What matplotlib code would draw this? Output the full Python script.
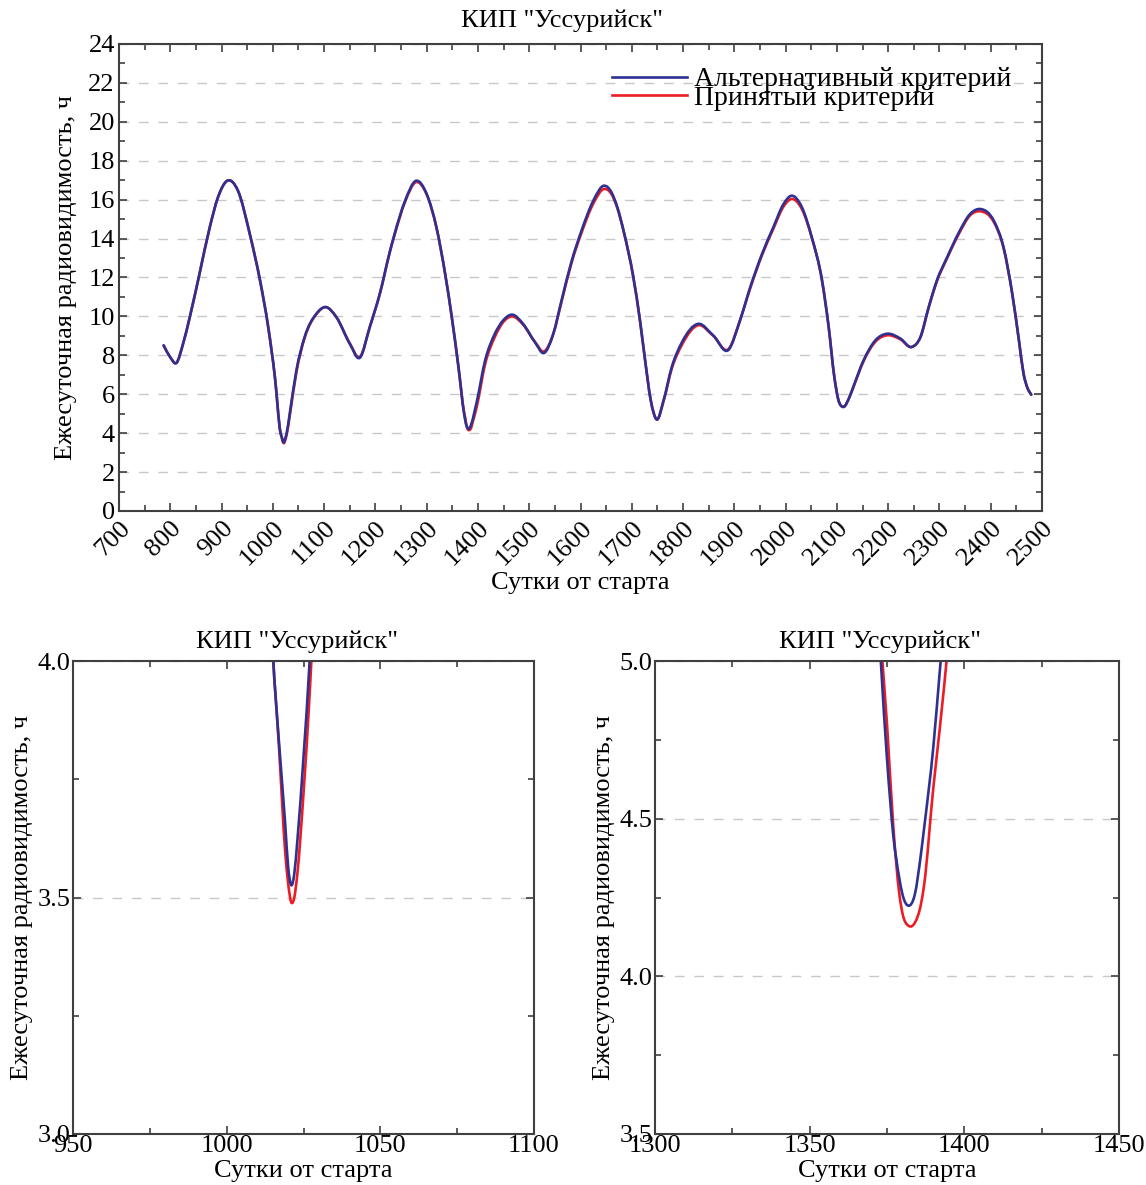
import numpy as np
import matplotlib
matplotlib.use("Agg")
import matplotlib.pyplot as plt
from matplotlib.ticker import MultipleLocator, FormatStrFormatter
from matplotlib.path import Path
from matplotlib.patches import PathPatch
from matplotlib.lines import Line2D

plt.rcParams['font.family'] = ['Liberation Serif', 'DejaVu Serif']

# ---------------- data ----------------
days = [787, 800, 812, 825, 838, 857, 877, 893, 911, 932, 955, 975, 991, 1004,
        1015, 1017, 1019, 1020, 1021, 1022, 1023, 1025, 1027, 1033, 1046, 1062,
        1085, 1103, 1124, 1150, 1170, 1189, 1209, 1228, 1237, 1258, 1279, 1300,
        1319, 1336, 1349, 1362, 1373, 1375, 1377, 1379, 1380, 1382, 1384, 1386,
        1387, 1390, 1392, 1398, 1414, 1433, 1449, 1467, 1488, 1511, 1529, 1547,
        1563, 1583, 1602, 1625, 1646, 1660, 1672, 1684, 1703, 1716, 1726, 1737,
        1749, 1762, 1778, 1798, 1830, 1859, 1889, 1911, 1931, 1954, 1976, 1996,
        2011, 2032, 2051, 2071, 2084, 2095, 2103, 2112, 2126, 2132, 2152, 2175,
        2198, 2224, 2246, 2263, 2279, 2295, 2315, 2338, 2360, 2380, 2406, 2425,
        2442, 2455, 2464, 2472, 2479]

alt_crit = [8.51, 7.90, 7.61, 8.60, 9.96, 12.19, 14.58, 16.12, 16.97, 16.46, 14.24, 11.85, 9.45, 6.89,
            4.02, 3.83, 3.66, 3.565, 3.526, 3.55, 3.62, 3.797, 4.00, 5.01, 7.23, 8.94,
            10.14, 10.48, 9.96, 8.60, 7.88, 9.45, 11.20, 13.30, 14.20, 15.95, 16.97, 16.29,
            14.58, 12.19, 9.96, 7.40, 5.00, 4.69, 4.45, 4.31, 4.26, 4.224, 4.26, 4.39,
            4.47, 4.73, 4.96, 5.65, 7.74, 9.11, 9.79, 10.09, 9.62, 8.68, 8.12, 9.11,
            10.82, 12.87, 14.41, 15.95, 16.72, 16.40, 15.60, 14.40, 12.02, 9.79, 7.74, 5.69,
            4.70, 5.69, 7.40, 8.68, 9.62, 9.02, 8.29, 9.79, 11.50, 13.21, 14.58, 15.78,
            16.20, 15.60, 14.07, 11.85, 9.45, 6.89, 5.70, 5.35, 5.95, 6.38, 7.74, 8.77,
            9.11, 8.86, 8.43, 8.94, 10.48, 11.85, 13.04, 14.32, 15.27, 15.52, 14.92, 13.55,
            11.16, 8.77, 7.06, 6.30, 5.98]

acc_crit = [8.51, 7.90, 7.61, 8.60, 9.96, 12.19, 14.58, 16.12, 16.97, 16.46, 14.24, 11.85, 9.45, 6.89,
            4.02, 3.82, 3.60, 3.53, 3.49, 3.50, 3.55, 3.72, 3.93, 4.90, 7.15, 8.90,
            10.12, 10.48, 9.96, 8.62, 7.92, 9.45, 11.20, 13.30, 14.15, 15.90, 16.90, 16.27,
            14.58, 12.19, 9.96, 7.40, 5.07, 4.80, 4.48, 4.26, 4.20, 4.16, 4.17, 4.23,
            4.29, 4.60, 4.78, 5.40, 7.55, 8.95, 9.70, 10.00, 9.58, 8.70, 8.20, 9.11,
            10.75, 12.80, 14.30, 15.80, 16.55, 16.30, 15.55, 14.38, 12.02, 9.79, 7.74, 5.69,
            4.70, 5.65, 7.32, 8.55, 9.55, 9.00, 8.33, 9.79, 11.45, 13.15, 14.50, 15.65,
            16.03, 15.50, 14.05, 11.85, 9.45, 6.89, 5.70, 5.35, 5.95, 6.35, 7.70, 8.70,
            9.03, 8.82, 8.43, 8.94, 10.45, 11.80, 13.00, 14.25, 15.20, 15.40, 14.85, 13.52,
            11.16, 8.77, 7.06, 6.30, 5.98]

series_labels = ["Альтернативный критерий", "Принятый критерий"]
title_text = 'КИП "Уссурийск"'
xlabel_text = "Сутки от старта"
ylabel_text = "Ежесуточная радиовидимость, ч"

BLUE = "#2e3192"
RED = "#ed1c24"
SPINE = "#404040"
FS = 19
LW = 1.9

fig = plt.figure(figsize=(11.46, 11.85), dpi=100)
W, H = 1146, 1185


def px_axes(l, t, r, b):
    return fig.add_axes([l / W, 1 - b / H, (r - l) / W, (b - t) / H])


def smooth_curve(ax, xs, ys, color):
    """Draw a smooth curve through the data points (cubic Hermite as Bezier path)."""
    x = np.asarray(xs, float)
    y = np.asarray(ys, float)
    n = len(x)
    h = np.diff(x)
    d = np.diff(y) / h
    m = np.empty(n)
    # three-point derivative for non-uniform spacing
    m[1:-1] = (d[:-1] * h[1:] + d[1:] * h[:-1]) / (h[:-1] + h[1:])
    m[0] = d[0]
    m[-1] = d[-1]
    verts = [(x[0], y[0])]
    codes = [Path.MOVETO]
    for i in range(n - 1):
        dx = h[i]
        verts += [(x[i] + dx / 3, y[i] + m[i] * dx / 3),
                  (x[i + 1] - dx / 3, y[i + 1] - m[i + 1] * dx / 3),
                  (x[i + 1], y[i + 1])]
        codes += [Path.CURVE4] * 3
    patch = PathPatch(Path(verts, codes), transform=ax.transData, fill=False,
                      edgecolor=color, lw=LW, capstyle='round', joinstyle='round')
    ax.add_patch(patch)


def style(ax):
    for s in ax.spines.values():
        s.set_color(SPINE)
        s.set_linewidth(1.5)
    ax.tick_params(which='both', direction='in', top=True, right=True,
                   color=SPINE, labelsize=FS, width=1.2)
    ax.tick_params(which='major', length=5.5)
    ax.tick_params(which='minor', length=4.5)
    ax.grid(axis='y', which='major', color='#c8c8c8', linestyle=(0, (7, 7)),
            linewidth=1.0)
    ax.set_axisbelow(True)


# ---------------- top panel ----------------
ax = px_axes(119, 44, 1042, 511)
smooth_curve(ax, days, acc_crit, RED)
smooth_curve(ax, days, alt_crit, BLUE)
ax.set_xlim(700, 2500)
ax.set_ylim(0, 24)
ax.xaxis.set_major_locator(MultipleLocator(100))
ax.xaxis.set_minor_locator(MultipleLocator(50))
ax.yaxis.set_major_locator(MultipleLocator(2))
ax.yaxis.set_minor_locator(MultipleLocator(1))
style(ax)
ax.tick_params(axis='y', pad=3)
ax.tick_params(axis='x', pad=4)
for lab in ax.get_xticklabels():
    lab.set_rotation(45)
    lab.set_ha('right')
    lab.set_va('top')
    lab.set_rotation_mode('anchor')
ax.set_xlabel(xlabel_text, fontsize=FS, labelpad=2)
ax.set_ylabel(ylabel_text, fontsize=FS, labelpad=8)
handles = [Line2D([], [], color=BLUE, lw=LW), Line2D([], [], color=RED, lw=LW)]
ax.legend(handles, series_labels, loc='upper right', frameon=False,
          fontsize=20, handlelength=2.7, handletextpad=0.25, labelspacing=-0.24,
          borderaxespad=0.0, bbox_to_anchor=(0.979, 0.975))
fig.text(562 / W, 1 - 21 / H, title_text, fontsize=FS, ha='center', va='center')

# ---------------- bottom left ----------------
ax2 = px_axes(73, 661, 534, 1134)
smooth_curve(ax2, days, acc_crit, RED)
smooth_curve(ax2, days, alt_crit, BLUE)
ax2.set_xlim(950, 1100)
ax2.set_ylim(3.0, 4.0)
ax2.xaxis.set_major_locator(MultipleLocator(50))
ax2.xaxis.set_minor_locator(MultipleLocator(25))
ax2.yaxis.set_major_locator(MultipleLocator(0.5))
ax2.yaxis.set_minor_locator(MultipleLocator(0.25))
ax2.yaxis.set_major_formatter(FormatStrFormatter('%.1f'))
style(ax2)
ax2.tick_params(axis='x', pad=1)
ax2.tick_params(axis='y', pad=2)
ax2.set_xlabel(xlabel_text, fontsize=FS, labelpad=2)
ax2.set_ylabel(ylabel_text, fontsize=FS, labelpad=3)
fig.text(297 / W, 1 - 642 / H, title_text, fontsize=FS, ha='center', va='center')

# ---------------- bottom right ----------------
ax3 = px_axes(655, 661, 1119, 1134)
smooth_curve(ax3, days, acc_crit, RED)
smooth_curve(ax3, days, alt_crit, BLUE)
ax3.set_xlim(1300, 1450)
ax3.set_ylim(3.5, 5.0)
ax3.xaxis.set_major_locator(MultipleLocator(50))
ax3.xaxis.set_minor_locator(MultipleLocator(25))
ax3.yaxis.set_major_locator(MultipleLocator(0.5))
ax3.yaxis.set_minor_locator(MultipleLocator(0.25))
ax3.yaxis.set_major_formatter(FormatStrFormatter('%.1f'))
style(ax3)
ax3.tick_params(axis='x', pad=1)
ax3.tick_params(axis='y', pad=2)
ax3.set_xlabel(xlabel_text, fontsize=FS, labelpad=2)
ax3.set_ylabel(ylabel_text, fontsize=FS, labelpad=3)
fig.text(880 / W, 1 - 642 / H, title_text, fontsize=FS, ha='center', va='center')

fig.savefig("out.png", dpi=100)
